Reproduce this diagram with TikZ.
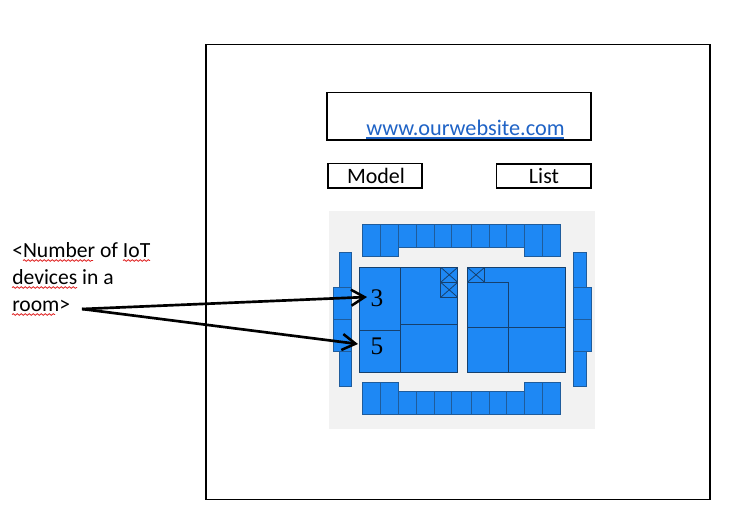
\documentclass[tikz,border=0pt]{standalone}
\usepackage{fontspec}
\setmainfont{Carlito}
\newfontfamily\numfont{Liberation Serif}
\usetikzlibrary{arrows.meta,decorations.pathmorphing}
\definecolor{planblue}{HTML}{1E88F4}
\definecolor{planedge}{HTML}{1F5C9C}
\definecolor{plangray}{HTML}{F2F2F2}
\definecolor{linkblue}{HTML}{1F63C6}
\definecolor{wavered}{HTML}{E02020}
\tikzset{
  frame/.style={draw=black,line width=1.2pt,fill=white},
  tile/.style={draw=planedge,line width=0.6pt,fill=planblue},
  room/.style={draw=planedge!70!black,line width=0.6pt,fill=planblue},
  label/.style={anchor=base west,inner sep=0pt,font=\fontsize{16.2}{18}\selectfont,text=black},
  btn/.style={anchor=base,inner sep=0pt,font=\fontsize{16.5}{18}\selectfont,text=black},
  num/.style={inner sep=0pt,font=\numfont\fontsize{19}{22}\selectfont,text=black},
  wave/.style={draw=wavered,line width=0.6pt,decorate,decoration={snake,amplitude=0.6pt,segment length=3pt}},
  pointer/.style={draw=black,line width=2pt,-{Straight Barb[length=10pt,width=12pt,line width=1.9pt]}}
}
\begin{document}
\begin{tikzpicture}[x=0.75pt,y=-0.75pt]
\useasboundingbox (0,0) rectangle (745,519);
\fill[white] (0,0) rectangle (745,519);
\draw[frame] (206,44.5) rectangle (710,499.5);
\draw[frame] (327,92.5) rectangle (591,140);
\draw[frame] (328,163.5) rectangle (422,188);
\draw[frame] (496.5,164) rectangle (591,188);
\node[anchor=base west,inner sep=0pt,font=\fontsize{16.7}{18}\selectfont,text=linkblue] (site) at (366,135.5) {www.ourwebsite.com};
\draw[linkblue,line width=0.8pt] (366,138) -- (564,138);
\node[btn] (model) at (376,183) {Model};
\node[btn] (list) at (544,183) {List};
% plan
\fill[plangray] (329,211) rectangle (595,429);
% top row
\foreach \a/\b in {362.3/380.3,380.3/398.7,524.3/542.7,542.7/560.7}{\draw[tile] (\a,224.3) rectangle (\b,256.7);}
\foreach \a/\b in {398.7/416.7,416.7/434.3,434.3/451.7,451.7/471.3,471.3/489.3,489.3/506.7,506.7/524.3}{\draw[tile] (\a,224.3) rectangle (\b,247.3);}
% bottom row
\foreach \a/\b in {362.3/380.3,380.3/398.7,524.3/542.7,542.7/560.7}{\draw[tile] (\a,382.3) rectangle (\b,414.3);}
\foreach \a/\b in {398.7/416.7,416.7/434.3,434.3/451.7,451.7/471.3,471.3/489.3,489.3/506.7,506.7/524.3}{\draw[tile] (\a,391.7) rectangle (\b,414.3);}
% side pillars
\draw[tile] (339,252.3) rectangle (351.7,287);
\draw[tile] (339,351.7) rectangle (351.7,386.3);
\draw[tile] (333.3,287) rectangle (351.7,319.3);
\draw[tile] (333.3,319.3) rectangle (351.7,351.7);
\draw[tile] (573.3,252.3) rectangle (586,287);
\draw[tile] (573.3,351.7) rectangle (586,386.3);
\draw[tile] (573.3,287) rectangle (591.7,319.3);
\draw[tile] (573.3,319.3) rectangle (591.7,351.7);
% left block
\draw[room] (359.3,267.3) rectangle (457.7,372.3);
\draw[room] (400.3,267.3) -- (400.3,372.3);
\draw[room] (359.3,330.3) -- (400.3,330.3);
\draw[room] (400.3,324.3) -- (457.7,324.3);
\foreach \t/\u in {267.3/282.3,282.3/297.3}{
  \draw[room] (440.7,\t) rectangle (457.7,\u);
  \draw[room] (440.7,\t) -- (457.7,\u) (440.7,\u) -- (457.7,\t);
}
% right block
\draw[room] (467.3,267.3) rectangle (565.7,372.3);
\draw[room] (467.3,282.3) rectangle (508.3,372.3);
\draw[room] (467.3,327.7) -- (565.7,327.7);
\draw[room] (467.3,267.3) rectangle (484.7,282.3);
\draw[room] (467.3,267.3) -- (484.7,282.3) (467.3,282.3) -- (484.7,267.3);
\node[num] (three) at (377,298.5) {3};
\node[num] (five) at (377,346.5) {5};
% note
\node[label] (noteA) at (12,257.5) {<Number of IoT};
\node[label] (noteB) at (12,284.5) {devices in a};
\node[label] (noteC) at (12,311.5) {room>};
\draw[wave] (23,260.5) -- (93,260.5);
\draw[wave] (123,260.5) -- (150,260.5);
\draw[wave] (12,287.5) -- (77,287.5);
\draw[wave] (12,314.5) -- (55,314.5);
\coordinate (src) at (82,309);
\coordinate (threetip) at (367,297);
\coordinate (fivetip) at (358,344);
\draw[pointer] (src) -- (threetip);
\draw[pointer] (src) -- (fivetip);
\end{tikzpicture}
\end{document}
